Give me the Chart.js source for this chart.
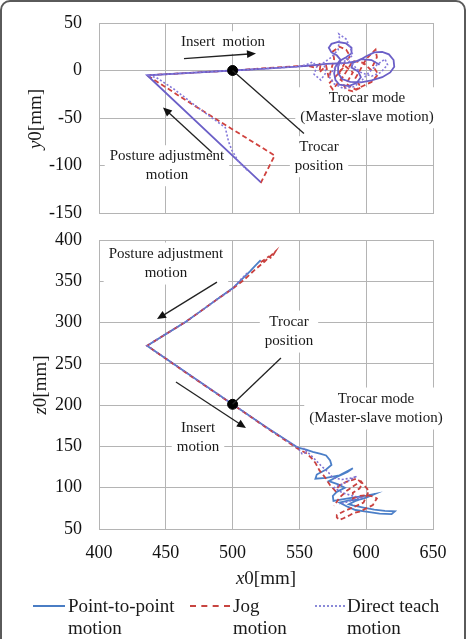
<!DOCTYPE html>
<html>
<head>
<meta charset="utf-8">
<script src="https://cdn.jsdelivr.net/npm/chart.js@4.4.1/dist/chart.umd.min.js"></script>
<style>
  html, body { margin:0; padding:0; background:#fff; width:467px; height:639px; overflow:hidden; }
  body { position:relative; font-family:'Liberation Serif','Times New Roman',serif; color:#1a1a1a; }
  #frame { position:absolute; left:0; top:0; width:466px; height:720px; border:2px solid #5a5a5a; border-radius:10px; box-sizing:border-box; }
  canvas { position:absolute; left:0; }
  .ytitle { position:absolute; font-size:19px; white-space:nowrap; transform:translate(-50%,-50%) rotate(-90deg); }
  .xtitle { position:absolute; font-size:19px; white-space:nowrap; transform:translate(-50%,-50%); }
  .leg { position:absolute; font-size:19px; line-height:22px; white-space:nowrap; }
  .sample { position:absolute; height:0; }
</style>
</head>
<body>
<div id="frame"></div>
<canvas id="top" width="467" height="230" style="top:0"></canvas>
<canvas id="bot" width="467" height="345" style="top:225px"></canvas>

<div class="ytitle" style="left:35px;top:119px"><i>y</i>0[mm]</div>
<div class="ytitle" style="left:40px;top:385px"><i>z</i>0[mm]</div>
<div class="xtitle" style="left:266px;top:578px"><i>x</i>0[mm]</div>

<div class="sample" style="left:33px;top:605px;width:32px;border-top:2px solid #4A7DC4"></div>
<div class="leg" style="left:68px;top:595px">Point-to-point<br>motion</div>
<div class="sample" style="left:190px;top:605px;width:40px;border-top:2px dashed #C84540"></div>
<div class="leg" style="left:233px;top:595px">Jog<br>motion</div>
<div class="sample" style="left:315px;top:605px;width:30px;border-top:2px dotted #8A8AD8"></div>
<div class="leg" style="left:347px;top:595px">Direct teach<br>motion</div>

<script>
// ---------- axis ticks ----------
const xTicks = [400, 450, 500, 550, 600, 650];
const yTicks = [-150, -100, -50, 0, 50];
const zTicks = [50, 100, 150, 200, 250, 300, 350, 400];

// ---------- top view (x0, y0) ----------
const ptpTopX = [521,436,468,500,525,548,556,563,570,578,586,594,600,606,612,617,620.5,621,618,612,604,596,588,582,579,579,581,578,574,572,574,579,585,589,589,585,580,577,576,577,580,587,593,596,594,589,590,596,604,610];
const ptpTopY = [-117.5,-5,-2.5,0,2,4,5,6,7,7.5,8,10,15,19,19.5,17,11,4,-2,-7,-10.5,-12.5,-12,-9,-3,4,11,16,19,24,28,30,28.5,24,18,14,10,4,-3,-10,-15,-16.5,-13,-7,-1,3,8,12,11,6];

const jogTopX = [521,531.5,500,468,436,468,500,525,548,556,562,566,565,570,572,576,575,580,585,588,584,580,582,585,590,596,592,596,600,604,607,608,605,609,604,598,592,585,590,584,578,572,575,583,590,598,604];
const jogTopY = [-118.5,-89.5,-62,-34,-5,-2.5,0,2.5,4.5,5,3,8,-2,5,-8,12,20,25,22,15,8,-2,-12,-20,-22,-18,-8,2,12,18,22,14,5,-4,-12,-16,-20,-14,-2,5,-5,-14,-20,-6,10,8,0];

const dirTopX = [511,504,499.5,497,495.5,494.5,475,456,443,436,468,500,525,548,555,560,563,561,566,570,568,574,579,580,579.5,585,588,590,584,576,572,576,583,591,597,602,608,614,616,611,604,596,590,584];
const dirTopY = [-105,-95,-84,-75,-66,-60,-40,-19.5,-7.5,-5,-2.5,0,2,4,6,9,4,-4,-10,-2,8,14,22,34,38.5,33,24,16,10,2,-6,-14,-19,-17,-10,-2,6,12,6,-2,-6,-2,6,14];

// ---------- side view (x0, z0) ----------
const ptpBotX = [521,517,513,508,500,490,478,465,450,436,468,500,525,549,555,560,566,570,573,574,570,563,562,570,580,590,586,578,572,579,584,578,575,575.5,582,590,600,606.5,600,592,587,590,598,606,614,621.5,619,610,600,592,586,580,588,596];
const ptpBotZ = [375.5,369,362,354,341.5,330,316,301,286,272,236.5,201,173.5,148.5,146,143.5,141,139,133,127.5,122,116,111,112,115,123.5,119,113,108,104,100,95,90,84,86,88,90.5,92.5,88,84,80,78.5,76,73.5,72,71.5,68,68.5,71,73,77,82,85,86];

const jogBotX = [521,527,529,532,524,516,508,500,490,478,465,450,436,468,500,525,550,555,559,562,565,569,573,577,580,585,593,597,595,590,590,595,600,606,608,606,605,600,595,590,588,583,580,578,578,584,590,598,602,596,586,580,576];
const jogBotZ = [373,380,378,386,374,363,351,341,330,316,301,286,272,236,201,173,146,142,136,130,121,113,103,96,103,107,111,105,99,94,87,90,91,89,87,82,79,75,71,69,67,63,61,64,67,72,76,82,96,108,97,88,78];

const dirBotX = [511,506,500,490,478,465,450,436,468,500,525,549,552,556,553,560,566,572,575,582,590,593,584,576,582,590,596,588,580];
const dirBotZ = [360,352,341,330,316,301,286,272,236.5,201,173.5,148,141,143,148,137,127,118,112,110,112,114,106,100,94,90,88,84,80];

// ---------- trocar position ----------
const trocarX = [500];
const trocarY = [0];
const trocarZ = [201];

const pts = (xs, ys) => xs.map((x, i) => ({ x: x, y: ys[i] }));

// ---------- annotation plugin (positions in data units) ----------
const annotPlugin = {
  id: 'annot',
  beforeDatasetsDraw(chart) {
    const o = chart.options.plugins.annot; if (!o) return;
    const ctx = chart.ctx, xs = chart.scales.x, ys = chart.scales.y;
    ctx.save();
    ctx.font = o.font;
    o.texts.forEach(t => {
      if (!t.box) return;
      const cx = xs.getPixelForValue(t.x), cy = ys.getPixelForValue(t.y);
      let w = 0; t.lines.forEach(l => { w = Math.max(w, ctx.measureText(l).width); });
      const h = t.lines.length * o.lh;
      ctx.fillStyle = '#fff';
      ctx.fillRect(cx - w / 2 - 5, cy - o.lh / 2 - 2, w + 10, h + 4);
    });
    ctx.restore();
  },
  afterDatasetsDraw(chart) {
    const o = chart.options.plugins.annot; if (!o) return;
    const ctx = chart.ctx, xs = chart.scales.x, ys = chart.scales.y;
    ctx.save();
    ctx.font = o.font;
    ctx.fillStyle = '#1a1a1a';
    ctx.textAlign = 'center';
    ctx.textBaseline = 'middle';
    o.texts.forEach(t => {
      const cx = xs.getPixelForValue(t.x), cy = ys.getPixelForValue(t.y);
      t.lines.forEach((l, i) => ctx.fillText(l, cx, cy + i * o.lh));
    });
    ctx.strokeStyle = '#222';
    ctx.lineWidth = 1.3;
    o.arrows.forEach(a => {
      const x1 = xs.getPixelForValue(a.from[0]), y1 = ys.getPixelForValue(a.from[1]);
      const x2 = xs.getPixelForValue(a.to[0]), y2 = ys.getPixelForValue(a.to[1]);
      const ang = Math.atan2(y2 - y1, x2 - x1);
      const hl = a.head ? 9 : 0;
      ctx.beginPath();
      ctx.moveTo(x1, y1);
      ctx.lineTo(x2 - hl * 0.8 * Math.cos(ang), y2 - hl * 0.8 * Math.sin(ang));
      ctx.stroke();
      if (a.head) {
        ctx.fillStyle = '#111';
        ctx.beginPath();
        ctx.moveTo(x2, y2);
        ctx.lineTo(x2 - hl * Math.cos(ang) + 4 * Math.sin(ang), y2 - hl * Math.sin(ang) - 4 * Math.cos(ang));
        ctx.lineTo(x2 - hl * Math.cos(ang) - 4 * Math.sin(ang), y2 - hl * Math.sin(ang) + 4 * Math.cos(ang));
        ctx.closePath();
        ctx.fill();
      }
    });
    ctx.restore();
  }
};

const serif = "'Liberation Serif','Times New Roman',serif";
const gridColor = '#b4b4b4';

function lineDs(data, color, dash, width, order) {
  return { data: data, showLine: true, borderColor: color, backgroundColor: color,
           borderWidth: width, borderDash: dash, pointRadius: 0, tension: 0, order: order };
}
function dotDs(data) {
  return { data: data, showLine: false, pointRadius: 5, pointHoverRadius: 5,
           backgroundColor: '#000', borderColor: '#000', order: 0 };
}

function makeChart(id, cfg) {
  return new Chart(document.getElementById(id), {
    type: 'scatter',
    data: { datasets: cfg.datasets },
    options: {
      responsive: false, animation: false, devicePixelRatio: 1,
      layout: { padding: cfg.padding },
      plugins: { legend: { display: false }, tooltip: { enabled: false }, annot: cfg.annot },
      scales: {
        x: {
          type: 'linear', min: 400, max: 650,
          afterBuildTicks: s => { s.ticks = xTicks.map(v => ({ value: v })); },
          afterFit: s => { s.height = cfg.xHeight; },
          grid: { color: gridColor, lineWidth: 1, drawTicks: cfg.showX, tickLength: 13, tickColor: 'rgba(0,0,0,0)' },
          border: { color: gridColor },
          ticks: { display: cfg.showX, padding: 0, color: '#111', font: { family: serif, size: 18 } }
        },
        y: {
          type: 'linear', min: cfg.yTicks[0], max: cfg.yTicks[cfg.yTicks.length - 1],
          afterBuildTicks: s => { s.ticks = cfg.yTicks.map(v => ({ value: v })); },
          afterFit: s => { s.width = 99; },
          grid: { color: gridColor, lineWidth: 1, drawTicks: true, tickLength: 17, tickColor: 'rgba(0,0,0,0)' },
          border: { color: gridColor },
          ticks: { padding: 0, color: '#111', font: { family: serif, size: 18 } }
        }
      }
    },
    plugins: [annotPlugin]
  });
}

makeChart('top', {
  yTicks: yTicks, showX: false, xHeight: 0,
  padding: { left: 0, right: 34, top: 23, bottom: 17 },
  datasets: [
    dotDs(pts(trocarX, trocarY)),
    lineDs(pts(dirTopX, dirTopY), '#8478DA', [2, 2], 1.6, 1),
    lineDs(pts(ptpTopX, ptpTopY), '#6B5FC7', [], 1.8, 2),
    lineDs(pts(jogTopX, jogTopY), '#D0423E', [5, 3], 1.8, 3)
  ],
  annot: {
    font: "15px " + serif, lh: 18.5,
    texts: [
      { lines: ['Insert  motion'], x: 492.8, y: 29.5, box: true },
      { lines: ['Trocar mode', '(Master-slave motion)'], x: 600.6, y: -29.5, box: true },
      { lines: ['Trocar', 'position'], x: 564.7, y: -81, box: true },
      { lines: ['Posture adjustment', 'motion'], x: 450.9, y: -90.5, box: true }
    ],
    arrows: [
      { from: [463.6, 12.6], to: [517.5, 17.9], head: true },
      { from: [484.6, -86.3], to: [447.9, -38.9], head: true },
      { from: [553.4, -66.3], to: [500, 0], head: false }
    ]
  }
});

makeChart('bot', {
  yTicks: zTicks, showX: true, xHeight: 41,
  padding: { left: 0, right: 34, top: 15, bottom: 0 },
  datasets: [
    dotDs(pts(trocarX, trocarZ)),
    lineDs(pts(dirBotX, dirBotZ), '#7F70D0', [2, 2], 1.6, 1),
    lineDs(pts(jogBotX, jogBotZ), '#C9413F', [5, 3], 1.8, 2),
    lineDs(pts(ptpBotX, ptpBotZ), '#4B7FC8', [], 1.8, 3)
  ],
  annot: {
    font: "15px " + serif, lh: 19,
    texts: [
      { lines: ['Posture adjustment', 'motion'], x: 450.1, y: 383, box: true },
      { lines: ['Trocar', 'position'], x: 542.2, y: 300.6, box: true },
      { lines: ['Trocar mode', '(Master-slave motion)'], x: 607.3, y: 207.4, box: true },
      { lines: ['Insert', 'motion'], x: 474.1, y: 172.3, box: true }
    ],
    arrows: [
      { from: [488.3, 349], to: [443.4, 304.2], head: true },
      { from: [536.2, 257], to: [500, 201], head: false },
      { from: [457.6, 228], to: [510, 172.3], head: true }
    ]
  }
});
</script>
</body>
</html>
